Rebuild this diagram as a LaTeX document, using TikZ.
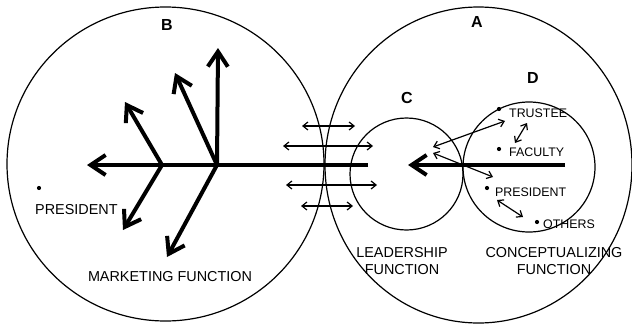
\documentclass[tikz,border=0pt]{standalone}
\usepackage{fontspec}
\setmainfont{Liberation Sans}
\usetikzlibrary{shapes.geometric, arrows.meta}

\begin{document}
\begin{tikzpicture}[
  x=1pt, y=-1pt,
  ring/.style={ellipse, draw, line width=1.2pt, inner sep=0pt},
  letter/.style={font=\bfseries\fontsize{16}{16}\selectfont, inner sep=0pt},
  fname/.style={font=\fontsize{14.4}{17}\selectfont, align=center, inner sep=0pt},
  member/.style={font=\fontsize{12.4}{13}\selectfont, inner sep=0pt, anchor=west},
  spot/.style={circle, fill, inner sep=0pt, minimum size=4.2pt},
  bigarrow/.style={-{Straight Barb[length=15pt,width=20pt]}, line width=4pt},
  link/.style={{Straight Barb[length=5pt,width=8pt]}-{Straight Barb[length=5pt,width=8pt]}, line width=1.2pt}
]

\useasboundingbox (0,0) rectangle (632,324);

\node[ring, minimum width=317, minimum height=314] (mkt) at (165.5,164) {};
\node[ring, minimum width=307, minimum height=316] (org) at (478.5,165) {};
\node[ring, minimum width=113, minimum height=112] (lead) at (406.5,174) {};
\node[ring, minimum width=132, minimum height=130] (conc) at (529,167) {};

\node[letter] (lb) at (167,25) {B};
\node[letter] (la) at (477,22) {A};
\node[letter] (lc) at (407,98) {C};
\node[letter] (ld) at (533,78) {D};

% marketing side
\coordinate (tail) at (368,165);
\coordinate (head) at (87,165);
\coordinate (fork1) at (162,165);
\coordinate (fork2) at (217,165);
\draw[bigarrow] (tail) -- (head);
\draw[bigarrow] (fork1) -- (125,102) coordinate (f1up);
\draw[bigarrow] (fork1) -- (123,230) coordinate (f1dn);
\draw[bigarrow] (fork2) -- (218,48) coordinate (f2up);
\draw[bigarrow] (fork2) -- (175,73) coordinate (f2ul);
\draw[bigarrow] (fork2) -- (167,257) coordinate (f2dn);

% conceptual side
\coordinate (dstart) at (565,165);
\coordinate (dtip) at (408,165);
\draw[bigarrow] (dstart) -- (dtip);

\foreach \i/\a/\b/\y in {1/302/355/126, 2/283/373/146, 3/286/377/185, 4/301/353/206} {
  \coordinate (l\i) at (\a,\y);
  \coordinate (r\i) at (\b,\y);
  \draw[link] (l\i) -- (r\i);
}

\node[spot] (ptrustee) at (499,109) {};
\node[member] (trustee) at (509,113) {TRUSTEE};
\node[spot] (pfaculty) at (499,149) {};
\node[member] (faculty) at (509,152) {FACULTY};
\node[spot] (ppres) at (487,188) {};
\node[member] (pres) at (495,192) {PRESIDENT};
\node[spot] (pothers) at (537,222) {};
\node[member] (others) at (543,224) {OTHERS};

\coordinate (t1) at (505,121); \coordinate (c1) at (433,147);
\coordinate (t2) at (527,123); \coordinate (f2) at (515,143);
\coordinate (c3) at (433,153); \coordinate (p3) at (493,177);
\coordinate (p4) at (497,200); \coordinate (o4) at (523,217);
\draw[link] (t1) -- (c1);
\draw[link] (t2) -- (f2);
\draw[link] (c3) -- (p3);
\draw[link] (p4) -- (o4);

\node[spot] (pboss) at (39,188) {};
\node[fname, anchor=west] (boss) at (35,210) {PRESIDENT};

\node[fname] (market) at (170,277) {MARKETING FUNCTION};
\node[fname] (leader) at (402,261.5) {LEADERSHIP\\FUNCTION};
\node[fname] (concept) at (554,261.5) {CONCEPTUALIZING\\FUNCTION};

\end{tikzpicture}
\end{document}
